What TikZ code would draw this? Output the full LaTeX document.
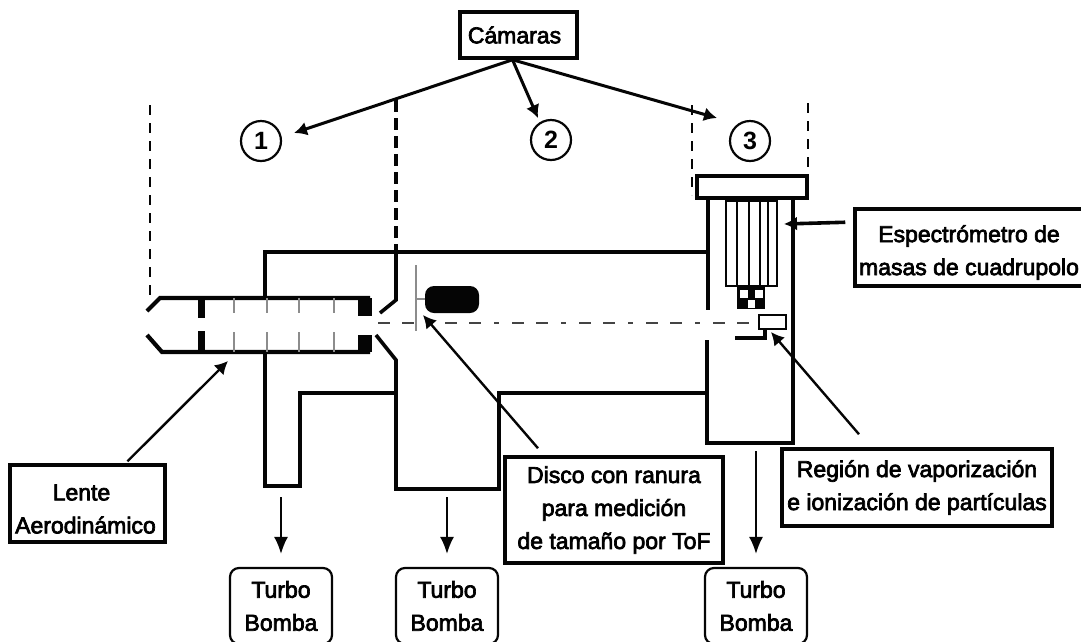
\documentclass[tikz,border=0pt]{standalone}
\usepackage{fontspec}
\usepackage{xcolor}
\usepackage{tikz}
\usetikzlibrary{calc,arrows.meta}
\setmainfont{Liberation Sans}
\newfontfamily\labelfont[FakeBold=3]{Liberation Sans}
\newcommand{\lowertext}{\rule{0pt}{27pt}}
\definecolor{wallBlack}{HTML}{050505}
\definecolor{tickGrey}{HTML}{8C8C8C}
\definecolor{beamGrey}{HTML}{444444}
\tikzset{
  labelbox/.style 2 args={rectangle, draw=wallBlack, fill=white, line width=3.5pt, align=center, font=\labelfont\fontsize{23}{33}\selectfont, minimum width=#1, minimum height=#2, inner sep=0pt},
  pumpbox/.style={rectangle, rounded corners=9pt, draw=wallBlack, line width=2.2pt, align=center, font=\labelfont\fontsize{23}{33}\selectfont, minimum width=102pt, minimum height=76pt, inner sep=0pt},
  chambernum/.style={circle, draw=wallBlack, line width=2.2pt, font=\bfseries\fontsize{25}{26}\selectfont, minimum size=40pt, inner sep=0pt},
  wall/.style={draw=wallBlack, line width=3.6pt, line join=miter},
  thinwall/.style={draw=wallBlack, line width=2.2pt},
  chamberdash/.style={draw=wallBlack, line width=2.2pt, dash pattern=on 10pt off 8pt},
  heavydash/.style={draw=wallBlack, line width=3.6pt, dash pattern=on 12pt off 6pt},
  lensstop/.style={fill=wallBlack, draw=none},
  lenstick/.style={draw=tickGrey, line width=1.6pt},
  beamline/.style={draw=beamGrey, line width=2.4pt, dash pattern=on 12pt off 12pt on 12pt off 13pt on 5pt off 13pt},
  flowarrow/.style={-{Latex[length=13pt,width=14pt]}, line width=3pt, draw=wallBlack},
  pumparrow/.style={-{Latex[length=17pt,width=14pt]}, line width=1.8pt, draw=wallBlack},
}
\begin{document}
\begin{tikzpicture}[x=1pt,y=-1pt]
  \useasboundingbox (0,0) rectangle (1081,641);
  \clip (0,0) rectangle (1081,641);

  % --- chamber walls ---
  \draw[chamberdash] (150,105) -- (150,298);
  \draw[heavydash] (396,100) -- (396,250);
  \draw[chamberdash] (692,105) -- (692,195);
  \draw[chamberdash] (808,103) -- (808,178);
  \draw[wall] (265,298) -- (265,252) -- (708,252);
  \draw[wall] (265,352) -- (265,486) -- (300,486) -- (300,393) -- (396,393);
  \draw[wall] (396,250) -- (396,300) -- (380,313);
  \draw[wall] (376,335) -- (396,360) -- (396,489) -- (499,489) -- (499,393) -- (707,393);
  \draw[wall] (707,340) -- (707,443) -- (793,443) -- (793,198);
  \draw[wall] (708,198) -- (708,310);

  % --- aerodynamic lens ---
  \draw[wall, line width=4.2pt] (147,311) -- (160,298) -- (370,298);
  \draw[wall, line width=4.2pt] (147,335) -- (162,352) -- (370,352);
  \foreach \tickx in {234,267,299,334}{
    \draw[lenstick] (\tickx,298) -- (\tickx,313);
    \draw[lenstick] (\tickx,332) -- (\tickx,352);
  }
  \fill[lensstop] (198,298) rectangle (205,318);
  \fill[lensstop] (198,331) rectangle (205,352);
  \fill[lensstop] (358,298) rectangle (372,316);
  \fill[lensstop] (358,335) rectangle (372,352);

  % --- chopper disc and beam ---
  \draw[beamline] (378,323) -- (755,323);
  \draw[lenstick] (416,265) -- (416,331);
  \draw[lenstick] (416,299) -- (426,299);
  \fill[wallBlack, rounded corners=9pt] (425,286) rectangle (479,313);

  % --- quadrupole ---
  \draw[wall, fill=white] (697,176) rectangle (807,198);
  \draw[wall, line width=2.8pt] (726,199) rectangle (777,286);
  \draw[wall] (726,200) -- (777,200);
  \foreach \rodx in {737,749,760,768}{
    \draw[thinwall] (\rodx,199) -- (\rodx,286);
  }
  \fill[wallBlack] (737,286) rectangle (765,309);
  \fill[white] (740,290) rectangle (748,298);
  \fill[white] (755,290) rectangle (763,298);
  \fill[white] (748,300) rectangle (755,308);
  \draw[wall, fill=white, line width=2.4pt] (759,315) rectangle (786,329);
  \draw[wall] (735,338) -- (765,338) -- (765,329);

  % --- labels ---
  \node[labelbox={117pt}{46pt}] (camaras) at (518.5,35) {C\'amaras\hspace*{8pt}};
  \node[chambernum] (cam1) at (261,141) {1};
  \node[chambernum] (cam2) at (551,140) {2};
  \node[chambernum] (cam3) at (750,141) {3};
  \node[labelbox={228pt}{77pt}] (espectro) at (969,247.5) {\lowertext Espectr\'ometro de\\masas de cuadrupolo};
  \node[labelbox={270pt}{77pt}] (region) at (917,487.5) {Regi\'on de vaporizaci\'on\\e ionizaci\'on de part\'iculas};
  \node[labelbox={155pt}{77pt}] (lente) at (87.5,503.5) {\lowertext Lente\hspace*{12pt}\\Aerodin\'amico\hspace*{4pt}};
  \node[labelbox={218pt}{106pt}] (disco) at (614,510) {Disco con ranura\\para medici\'on\\de tama\~no por ToF};
  \node[pumpbox] (turbo1) at (281,606) {Turbo\\Bomba};
  \node[pumpbox] (turbo2) at (447,606) {Turbo\\Bomba};
  \node[pumpbox] (turbo3) at (756,606) {Turbo\\Bomba};

  \coordinate (tipcam1) at (294,133);
  \coordinate (tipcam2) at (538,118);
  \coordinate (tipcam3) at (717,118);
  \coordinate (tipespectro) at (784,224);
  \coordinate (tipregion) at (771,332);
  \coordinate (tipdisco) at (423,315);
  \coordinate (tiplente) at (228,361);
  \coordinate (outpump1) at (281,497);
  \coordinate (outpump2) at (447,497);
  \coordinate (outpump3) at (756,451);

  \draw[flowarrow] ([xshift=-6pt]camaras.south) -- (tipcam1);
  \draw[flowarrow] ([xshift=-6pt]camaras.south) -- (tipcam2);
  \draw[flowarrow] ([xshift=-6pt]camaras.south) -- (tipcam3);
  \draw[flowarrow, line width=3.6pt] ([xshift=-8pt,yshift=-15pt]espectro.north west) -- (tipespectro);
  \draw[flowarrow, line width=2.4pt] ([xshift=-58pt,yshift=13pt]region.north) -- (tipregion);
  \draw[flowarrow, line width=2.4pt] ([xshift=-76pt,yshift=7pt]disco.north) -- (tipdisco);
  \draw[flowarrow, line width=2.4pt] ([xshift=40pt,yshift=2pt]lente.north) -- (tiplente);
  \draw[pumparrow, shorten >=13pt] (outpump1) -- (turbo1.north);
  \draw[pumparrow, shorten >=13pt] (outpump2) -- (turbo2.north);
  \draw[pumparrow, shorten >=13pt] (outpump3) -- (turbo3.north);
\end{tikzpicture}
\end{document}
